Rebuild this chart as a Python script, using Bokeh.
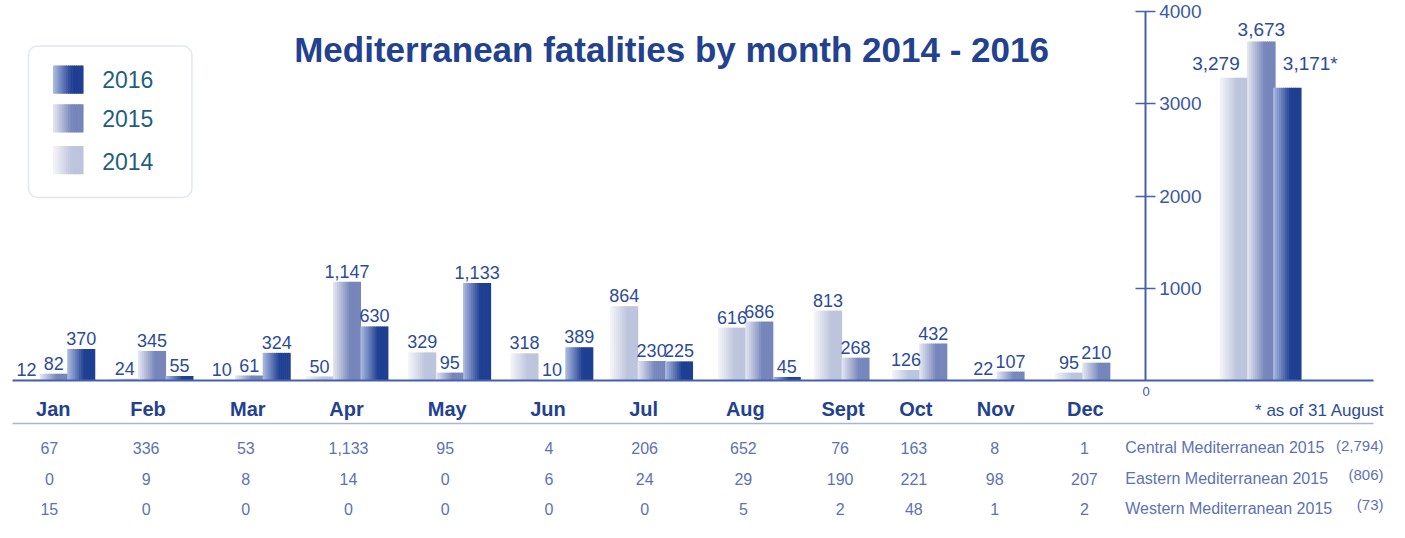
import numpy as np
from bokeh.plotting import figure
from bokeh.models import Range1d, LinearAxis, FixedTicker, BoxAnnotation
from bokeh.core.properties import value
from bokeh.embed import file_html
from bokeh.resources import INLINE

# ---------------- data ----------------
months = ["Jan", "Feb", "Mar", "Apr", "May", "Jun", "Jul", "Aug", "Sept", "Oct", "Nov", "Dec"]
fatal_2014 = [12, 24, 10, 50, 329, 318, 864, 616, 813, 126, 22, 95]
fatal_2015 = [82, 345, 61, 1147, 95, 10, 230, 686, 268, 432, 107, 210]
fatal_2016 = [370, 55, 324, 630, 1133, 389, 225, 45]          # Jan - Aug only

total_years = ["2014", "2015", "2016"]
total_values = [3279, 3673, 3171]
total_suffix = ["", "", "*"]

axis_ticks = [1000, 2000, 3000, 4000]

route_names = ["Central Mediterranean 2015", "Eastern Mediterranean 2015", "Western Mediterranean 2015"]
route_totals = [2794, 806, 73]
central_2015 = [67, 336, 53, 1133, 95, 4, 206, 652, 76, 163, 8, 1]
eastern_2015 = [0, 9, 8, 14, 0, 6, 24, 29, 190, 221, 98, 207]
western_2015 = [15, 0, 0, 0, 0, 0, 0, 5, 2, 48, 1, 2]

# ---------------- layout (reference pixel space) ----------------
W, H = 1389, 522
VIEW_X = (0, 1393)
VIEW_Y = (542, 4)
GROUP_X = [53.5, 152, 249.5, 347.5, 450.5, 553, 653, 761, 857.5, 935.5, 1013, 1099]  # centre of 2015 bar
LABEL_X = [53, 148, 248, 347, 448, 549, 645, 747, 845, 918, 998, 1088]
TABLE_X = [49, 146, 246, 349, 446, 550, 646, 745, 842, 916, 997, 1087]
TABLE_Y = [465, 497, 528]
BAR_W = 27.5
TOTAL_X = [1237, 1264.5, 1290.5]
TOTAL_W = 28
BASE_Y = 396
AXIS_X = 1148

NAVY = "#22418f"
LABEL_C = "#2d4b9b"
TABLE_C = "#5d72b4"
AXIS_C = "#4660aa"
FONT = "Liberation Sans"

GRAD = {
    "2014": ("#f6f6f9", "#bcc5dc"),
    "2015": ("#e6e8f2", "#7686ba"),
    "2016": ("#aebce2", "#1f3f92"),
}

p = figure(width=W, height=H, x_range=Range1d(*VIEW_X), y_range=Range1d(*VIEW_Y),
           output_backend="svg", toolbar_location=None, min_border=0,
           x_axis_location=None, y_axis_location=None, outline_line_color=None,
           background_fill_color="white", border_fill_color="white")
p.grid.visible = False

# value ranges: months and totals share the same baseline
k_tot = (BASE_Y - 15) / 4000.0
k_mon = 0.089
p.extra_y_ranges = {
    "tot": Range1d(-(VIEW_Y[0] - BASE_Y) / k_tot, (BASE_Y - VIEW_Y[1]) / k_tot),
    "mon": Range1d(-(VIEW_Y[0] - BASE_Y) / k_mon, (BASE_Y - VIEW_Y[1]) / k_mon),
}


def hex2rgb(h):
    h = h.lstrip("#")
    return np.array([int(h[i:i + 2], 16) for i in (0, 2, 4)], dtype=float)


def mix(c0, c1, s):
    a, b = hex2rgb(c0), hex2rgb(c1)
    c = a + (b - a) * s
    return "#%02x%02x%02x" % tuple(int(round(v)) for v in c)


def gradient_bars(xc, tops, w, key, yname, n=14, knee=0.62):
    c0, c1 = GRAD[key]
    for i in range(n):
        t = (i + 0.5) / n
        col = mix(c0, c1, min(1.0, t / knee))
        xs = [x - w / 2 + (i + 0.5) * w / n for x in xc]
        p.vbar(x=xs, top=tops, bottom=0, width=w / n + 0.6, fill_color=col,
               line_color=None, y_range_name=yname)


def gradient_quads(left, right, tops, bottoms, key, n=14, knee=0.62):
    c0, c1 = GRAD[key]
    w = right - left
    for i in range(n):
        t = (i + 0.5) / n
        col = mix(c0, c1, min(1.0, t / knee))
        p.quad(left=left + i * w / n - 0.3, right=left + (i + 1) * w / n + 0.3,
               top=tops, bottom=bottoms, fill_color=col, line_color=None)


# ---------------- monthly bars ----------------
x14 = [g - BAR_W for g in GROUP_X]
x15 = list(GROUP_X)
x16 = [g + BAR_W for g in GROUP_X[:len(fatal_2016)]]

gradient_bars(x14, fatal_2014, BAR_W, "2014", "mon")
gradient_bars(x15, fatal_2015, BAR_W, "2015", "mon")
gradient_bars(x16, fatal_2016, BAR_W, "2016", "mon")

for xs, vals in ((x14, fatal_2014), (x15, fatal_2015), (x16, fatal_2016)):
    p.text(x=xs, y=vals, text=[f"{v:,}" for v in vals], y_range_name="mon",
           text_align="center", text_baseline="bottom", y_offset=-4,
           text_font=value(FONT), text_font_size="18px", text_color=LABEL_C)

# ---------------- totals ----------------
for i, key in enumerate(total_years):
    gradient_bars([TOTAL_X[i]], [total_values[i]], TOTAL_W, key, "tot")

p.text(x=TOTAL_X, y=total_values, text=[f"{v:,}{s}" for v, s in zip(total_values, total_suffix)],
       x_offset=[-18, 0, 23], y_offset=[-8, -5, -14], y_range_name="tot",
       text_align="center", text_baseline="bottom",
       text_font=value(FONT), text_font_size="19px", text_color=LABEL_C)

# ---------------- axes ----------------
xaxis = LinearAxis(fixed_location=BASE_Y, bounds=(12, 1377),
                   ticker=FixedTicker(ticks=LABEL_X),
                   major_label_overrides={x: m for x, m in zip(LABEL_X, months)},
                   axis_line_color=AXIS_C, axis_line_width=2,
                   major_tick_line_color=None, minor_tick_line_color=None,
                   major_label_standoff=11,
                   major_label_text_font=FONT,
                   major_label_text_font_style="bold",
                   major_label_text_font_size="20px",
                   major_label_text_color=NAVY)
p.add_layout(xaxis, "below")

yaxis = LinearAxis(y_range_name="tot", fixed_location=AXIS_X, bounds=(0, 4000),
                   ticker=FixedTicker(ticks=axis_ticks),
                   axis_line_color=AXIS_C, axis_line_width=2,
                   major_tick_line_color=AXIS_C, major_tick_line_width=1.5,
                   major_tick_in=10, major_tick_out=10,
                   minor_tick_line_color=None,
                   major_label_standoff=4,
                   major_label_text_font=FONT,
                   major_label_text_font_size="19px",
                   major_label_text_color="#3b58a6")
p.add_layout(yaxis, "right")

p.text(x=[AXIS_X + 1], y=[0], text=["0"], y_range_name="tot", y_offset=11,
       text_align="center", text_baseline="middle",
       text_font=value(FONT), text_font_size="13px", text_color="#3b58a6")

# separator line below month labels
p.line(x=[12, 1377], y=[440, 440], line_color="#a9b4d6", line_width=1.5)

# ---------------- title ----------------
p.text(x=[673], y=[55], text=["Mediterranean fatalities by month 2014 - 2016"],
       text_align="center", text_baseline="middle",
       text_font=value(FONT), text_font_style="bold",
       text_font_size="35px", text_color=NAVY)

# ---------------- legend ----------------
p.add_layout(BoxAnnotation(left=28, right=192, top=51, bottom=207, fill_color="white",
                           fill_alpha=1.0, line_color="#9dadd4", line_width=1.5,
                           border_radius=9, level="underlay"))
legend_years = ["2016", "2015", "2014"]
legend_top = [71, 111, 154]
legend_mid = [85, 126, 170]
for yr, tp in zip(legend_years, legend_top):
    gradient_quads(53, 83, [tp], [tp + 29], yr)
p.text(x=[102] * 3, y=legend_mid, text=legend_years, text_align="left", text_baseline="middle",
       text_font=value(FONT), text_font_size="23px", text_color="#1f5f7d")

# ---------------- footnote ----------------
p.text(x=[1388], y=[427], text=["* as of 31 August"], text_align="right", text_baseline="middle",
       text_font=value(FONT), text_font_size="17px", text_color=LABEL_C)

# ---------------- route table ----------------
for row, y in zip((central_2015, eastern_2015, western_2015), TABLE_Y):
    p.text(x=TABLE_X, y=[y] * len(row), text=[f"{v:,}" for v in row],
           text_align="center", text_baseline="middle",
           text_font=value(FONT), text_font_size="16px", text_color=TABLE_C)

p.text(x=[1128] * 3, y=TABLE_Y, text=route_names, text_align="left", text_baseline="middle",
       text_font=value(FONT), text_font_size="16px", text_color=TABLE_C)
p.text(x=[1387] * 3, y=[463, 493, 523], text=[f"({v:,})" for v in route_totals],
       text_align="right", text_baseline="middle",
       text_font=value(FONT), text_font_size="15px", text_color=TABLE_C)

open("out.html", "w").write(file_html(p, INLINE))
